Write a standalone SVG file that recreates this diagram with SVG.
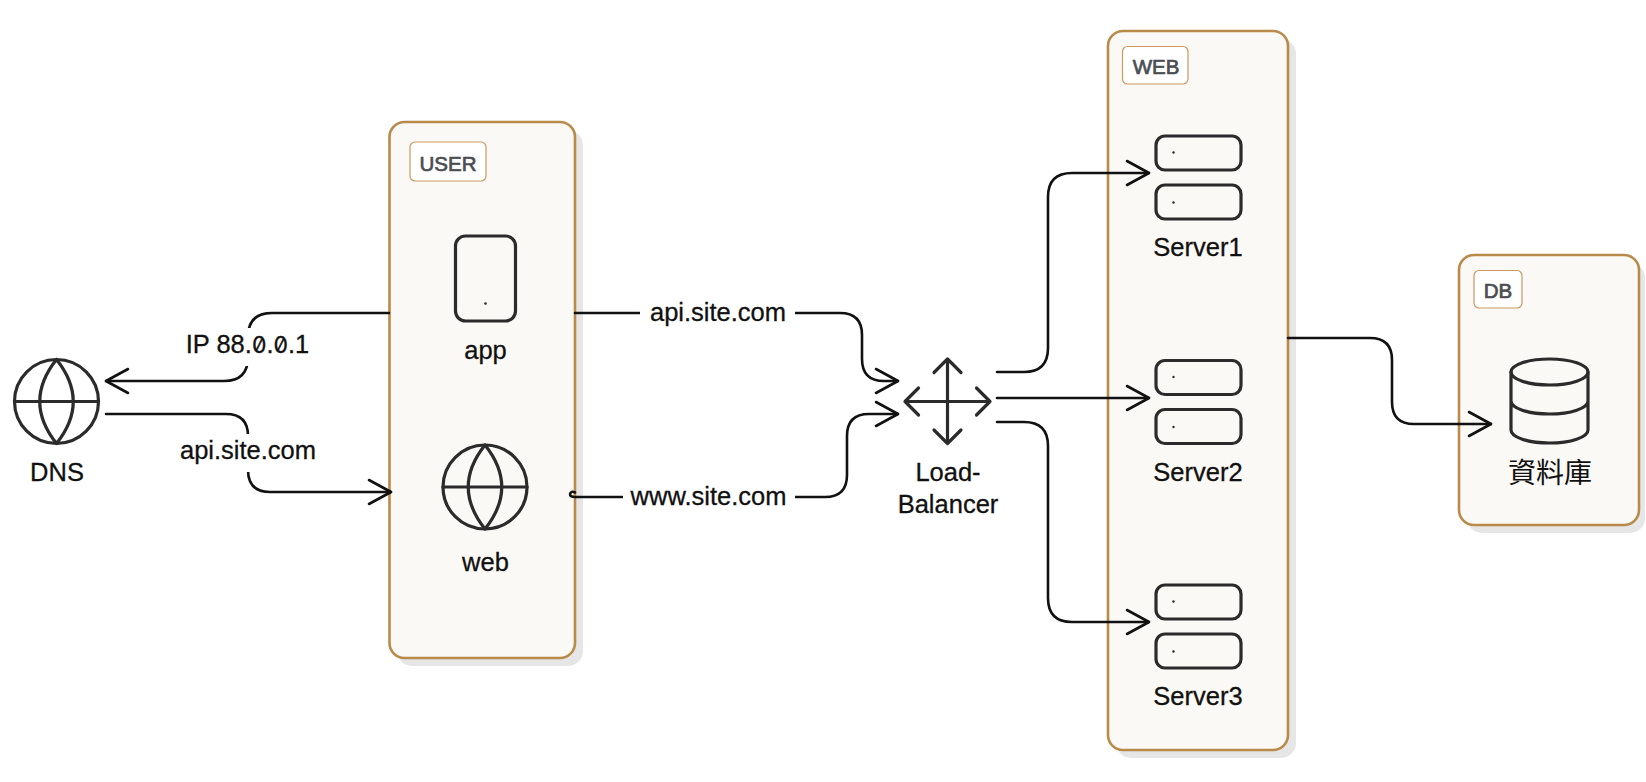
<svg xmlns="http://www.w3.org/2000/svg" width="1646" height="782" viewBox="0 0 1646 782">
<style>
.shadow{fill:#e6e6e6}
.box{fill:#fbf9f5;stroke:#b98a4a;stroke-width:2.6}
.tag{fill:#fff;stroke:#c9995f;stroke-width:1.2}
.tagt{font:20.500px "Liberation Sans",Arial,sans-serif;fill:#4b4d52;stroke:#4b4d52;stroke-width:.7;text-anchor:middle}
.t{font:25.500px "Liberation Sans",Arial,sans-serif;fill:#111;stroke:#111;stroke-width:.3;text-anchor:middle}
.el{font:25.500px "Liberation Sans",Arial,sans-serif;fill:#111;stroke:#111;stroke-width:.3;text-anchor:middle}
.z{font-family:Inter,"Liberation Sans",sans-serif;font-feature-settings:"zero";font-size:23px}
.ic{fill:none;stroke:#2b2b2b;stroke-width:3.2;stroke-linecap:round;stroke-linejoin:round}
.dot{fill:#2b2b2b}
.c{fill:none;stroke:#111;stroke-width:2.6;stroke-linecap:round;stroke-linejoin:round;marker-end:url(#a)}
.lb{fill:#fff}
</style>
<defs>
<marker id="a" markerUnits="userSpaceOnUse" markerWidth="30" markerHeight="32" refX="24" refY="14" orient="auto">
<path d="M2 2 L24 14 L2 26" fill="none" stroke="#111" stroke-width="2.6" stroke-linecap="round" stroke-linejoin="round"/>
</marker>
</defs>
<rect width="1646" height="782" fill="#fff"/>

<g id="group-user">
<rect class="shadow" x="397" y="130" width="186" height="536" rx="15"/>
<rect class="box" x="389.5" y="122" width="185.500" height="536" rx="15"/>
<rect class="tag" x="410" y="142" width="76" height="39" rx="5"/>
<text class="tagt" x="448" y="171">USER</text>
</g>
<g id="group-web">
<rect class="shadow" x="1116" y="39" width="180" height="719" rx="15"/>
<rect class="box" x="1108" y="31" width="180" height="719" rx="15"/>
<rect class="tag" x="1122.500" y="46.500" width="65.500" height="37.500" rx="5"/>
<text class="tagt" x="1156" y="74">WEB</text>
</g>
<g id="group-db">
<rect class="shadow" x="1467" y="263" width="178" height="270" rx="15"/>
<rect class="box" x="1459" y="255" width="180" height="270" rx="15"/>
<rect class="tag" x="1474" y="270.500" width="48" height="37.500" rx="5"/>
<text class="tagt" x="1498" y="298">DB</text>
</g>

<g id="connectors">
<path class="c" d="M389 313 H272 Q248 313 248 337 V357 Q248 381 224 381 H106"/>
<path class="c" style="marker-end:none" d="M106 414 H226 Q248 414 248 436 V470 Q248 492 270 492 H391"/>
<path d="M369 480 L391 492 L369 504" fill="none" stroke="#111" stroke-width="2.6" stroke-linecap="round" stroke-linejoin="round"/>
<path class="c" d="M575 313 H840 Q862 313 862 335 V359 Q862 381 884 381 H898"/>
<path class="c" d="M575 492.500 Q571 490.500 570 494 Q570 497 575 497 H825 Q847 497 847 475 V436 Q847 414 869 414 H898"/>
<path class="c" d="M997 372 H1024 Q1048 372 1048 348 V197 Q1048 173 1072 173 H1149"/>
<path class="c" d="M997 398 H1149"/>
<path class="c" d="M997 422 H1024 Q1048 422 1048 446 V598 Q1048 622 1072 622 H1149"/>
<path class="c" d="M1288 338 H1370 Q1392 338 1392 360 V402 Q1392 424 1414 424 H1491"/>
</g>

<g id="edge-labels">
<rect class="lb" x="182" y="328" width="131" height="38"/>
<text class="el" x="247.500" y="353">IP 88.<tspan class="z">0</tspan>.<tspan class="z">0</tspan>.1</text>
<rect class="lb" x="178" y="434" width="140" height="38"/>
<text class="el" x="248" y="459">api.site.com</text>
<rect class="lb" x="640" y="295" width="155" height="36"/>
<text class="el" x="718" y="321">api.site.com</text>
<rect class="lb" x="623" y="479" width="172" height="36"/>
<text class="el" x="708.500" y="505">www.site.com</text>
</g>

<g id="dns">
<circle class="ic" cx="56.500" cy="401.500" r="42"/>
<path class="ic" d="M14.500 401.500 H98.500 M56.500 359.500 Q23 401.500 56.500 443.500 Q90 401.500 56.500 359.500"/>
<text class="t" x="57" y="481">DNS</text>
</g>
<g id="app">
<rect class="ic" x="455.500" y="236" width="60" height="85" rx="10"/>
<circle class="dot" cx="485.500" cy="303.500" r="1.300"/>
<text class="t" x="485.500" y="359">app</text>
</g>
<g id="web">
<circle class="ic" cx="485" cy="487" r="42"/>
<path class="ic" d="M443 487 H527 M485 445 Q451.500 487 485 529 Q518.500 487 485 445"/>
<text class="t" x="485.500" y="571">web</text>
</g>
<g id="load-balancer">
<path class="ic" d="M905 401.500 H990 M947.500 359 V443.500 M918.500 388 L905 401.500 L918.500 415 M976.500 388 L990 401.500 L976.500 415 M934 372.500 L947.500 359 L961 372.500 M934 430 L947.500 443.500 L961 430"/>
<text class="t" x="948" y="481">Load-</text>
<text class="t" x="948" y="513">Balancer</text>
</g>
<g id="server1">
<rect class="ic" x="1156" y="136" width="85" height="34" rx="9"/>
<rect class="ic" x="1156" y="185" width="85" height="34" rx="9"/>
<circle class="dot" cx="1173.500" cy="152.500" r="1.200"/>
<circle class="dot" cx="1173.500" cy="202.500" r="1.200"/>
<text class="t" x="1198" y="256">Server1</text>
</g>
<g id="server2">
<rect class="ic" x="1156" y="360.500" width="85" height="34" rx="9"/>
<rect class="ic" x="1156" y="409.500" width="85" height="34" rx="9"/>
<circle class="dot" cx="1173.500" cy="377" r="1.200"/>
<circle class="dot" cx="1173.500" cy="427" r="1.200"/>
<text class="t" x="1198" y="480.500">Server2</text>
</g>
<g id="server3">
<rect class="ic" x="1156" y="585" width="85" height="34" rx="9"/>
<rect class="ic" x="1156" y="634" width="85" height="34" rx="9"/>
<circle class="dot" cx="1173.500" cy="601.500" r="1.200"/>
<circle class="dot" cx="1173.500" cy="651.500" r="1.200"/>
<text class="t" x="1198" y="705">Server3</text>
</g>
<g id="database">
<ellipse class="ic" cx="1549.500" cy="372" rx="38.500" ry="13"/>
<path class="ic" d="M1511 372 V430 A38.500 13 0 0 0 1588 430 V372 M1511 401 A38.500 13 0 0 0 1588 401"/>
<text x="1550" y="483" style="font:28px 'Noto Sans CJK TC','Noto Sans CJK SC',sans-serif;fill:#111;text-anchor:middle">資料庫</text>
</g>
</svg>
